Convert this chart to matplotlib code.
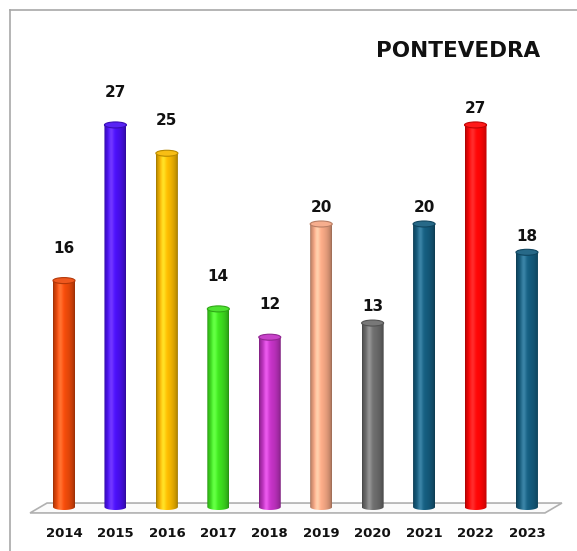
import numpy as np
import matplotlib
matplotlib.use("Agg")
from matplotlib import pyplot as plt
from matplotlib.patches import Ellipse, Polygon
from matplotlib.lines import Line2D
from matplotlib.colors import to_rgb

# data
years = ["2014", "2015", "2016", "2017", "2018", "2019", "2020", "2021", "2022", "2023"]
values = [16, 27, 25, 14, 12, 20, 13, 20, 27, 18]
colors = ["#EE4A0A", "#4A10F2", "#F7B800", "#3EE01E", "#C232C4",
          "#F5A784", "#6C6C6C", "#145C7E", "#FF0505", "#145C7E"]
title = "PONTEVEDRA"

W, H, DPI = 577, 551, 100
fig = plt.figure(figsize=(W / DPI, H / DPI), dpi=DPI)
ax = fig.add_axes([0, 0, 1, 1])
ax.set_axis_off()

# map pixel layout: bar centres at 64 + 51.44*i, baseline at y=507, 14.15 px per unit
px_step, px_x0, px_base, px_unit = 51.44, 64.0, 507.0, 14.15
ax.set_xlim(-px_x0 / px_step, (W - px_x0) / px_step)
ax.set_ylim(-(H - px_base) / px_unit, px_base / px_unit)

bar_w = 22 / px_step
ell_h = 6 / px_unit

# border (left and top only)
fig.add_artist(Line2D([10 / W, 10 / W], [0, 1 - 10 / H], color="#a8a8a8", lw=1.2))
fig.add_artist(Line2D([10 / W, 1], [1 - 10 / H, 1 - 10 / H], color="#a8a8a8", lw=1.2))

# floor
n = len(years)
floor = Polygon([(-0.66, -0.42), (-0.33, 0.28), (n - 1 + 0.68, 0.28), (n - 1 + 0.35, -0.42)],
                closed=True, facecolor="#fbfbfb", edgecolor="#b0b0b0", lw=1.2, zorder=1)
ax.add_patch(floor)

# cylinder shading profile
t = np.linspace(0, 1, 64)
shade = 0.6 + 0.5 * np.sin(np.pi * t) ** 0.5 * (1 - 0.3 * t)
hl = np.exp(-((t - 0.33) / 0.12) ** 2) * 0.15

for i, (v, c) in enumerate(zip(values, colors)):
    rgb = np.array(to_rgb(c))
    cols = np.clip(rgb[None, :] * shade[:, None] + hl[:, None], 0, 1)
    img = cols[None, :, :]
    x0, x1 = i - bar_w / 2, i + bar_w / 2
    # outline: straight sides, rounded bottom
    th = np.linspace(np.pi, 2 * np.pi, 30)
    bottom = [(i + bar_w / 2 * np.cos(a), ell_h / 2 * np.sin(a)) for a in th]
    verts = [(x0, v)] + bottom + [(x1, v)]
    clip = Polygon(verts, closed=True, facecolor="none", edgecolor="none")
    ax.add_patch(clip)
    im = ax.imshow(img, extent=[x0, x1, -ell_h, v], aspect="auto",
                   interpolation="bilinear", zorder=2)
    im.set_clip_path(clip)
    top = Ellipse((i, v), bar_w, ell_h, facecolor=np.clip(rgb * 0.92 + 0.08, 0, 1),
                  edgecolor=np.clip(rgb * 0.75, 0, 1), lw=0.8, zorder=3)
    ax.add_patch(top)
    # labels sit higher above the first half of the bars, as in the source
    gap = 2.3 if i < n // 2 else 1.15
    ax.text(i, v + gap, str(v), ha="center", va="center", fontsize=11,
            fontweight="bold", color="#111111", zorder=4)
    ax.text(i, -1.84, years[i], ha="center", va="center", fontsize=9.5,
            fontweight="bold", color="#111111")

ax.text((540 - px_x0) / px_step, (px_base - 51) / px_unit, title, ha="right",
        va="center", fontsize=15.5, fontweight="bold", color="#111111")

fig.savefig("out.png", dpi=DPI, facecolor="white")
